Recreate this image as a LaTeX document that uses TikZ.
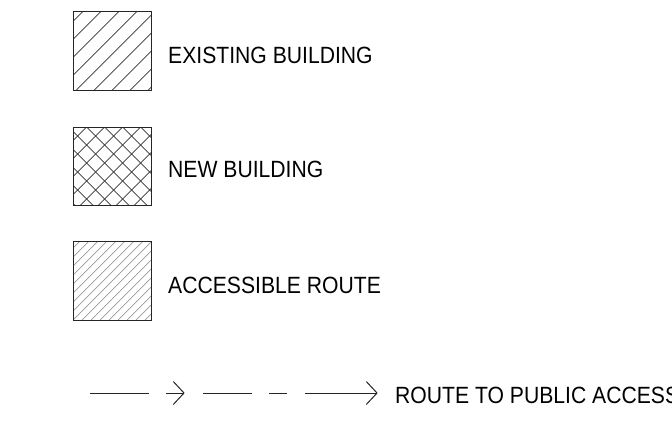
\documentclass[tikz,border=0pt]{standalone}
\usepackage{fontspec}
\setmainfont[FakeStretch=0.9]{Liberation Sans}
\begin{document}
\begin{tikzpicture}[x=1pt,y=-1pt,
  swatch/.style={draw=black!85,line width=1pt},
  hatch/.style={line width=0.7pt,black!80},
  lighthatch/.style={line width=0.7pt,black!40},
  label/.style={anchor=west,inner sep=0pt,font=\fontsize{23.5}{23.5}\selectfont},
  route/.style={line width=1pt,black!85},
  chevron/.style={line width=1pt,black!85,line join=miter}]
\useasboundingbox (0,0) rectangle (672,429);

% existing building: single diagonal hatch
\begin{scope}
  \clip (73,11) rectangle (151,90);
  \foreach \c in {-14,...,14}
    \draw[hatch] ({94.3+18*\c-11+60},-60+11) -- ({94.3+18*\c-90-60},{90+60});
\end{scope}
\node[swatch,minimum width=78pt,minimum height=79pt,inner sep=0pt] (exist) at (112,50.5) {};
\node[label] (existlbl) at (168,55) {EXISTING BUILDING};

% new building: cross hatch
\begin{scope}
  \clip (73,127) rectangle (151,205);
  \foreach \c in {-14,...,14} {
    \draw[hatch] ({213.7+18*\c-127+60},{127-60}) -- ({213.7+18*\c-205-60},{205+60});
    \draw[hatch] ({-40.3+18*\c+127-60},{127-60}) -- ({-40.3+18*\c+205+60},{205+60});
  }
\end{scope}
\node[swatch,minimum width=78pt,minimum height=78pt,inner sep=0pt] (new) at (112,166) {};
\node[label] (newlbl) at (168,169) {NEW BUILDING};

% accessible route: fine grey hatch
\begin{scope}
  \clip (73,241) rectangle (151,320);
  \foreach \c in {-24,...,24}
    \draw[lighthatch] ({321+9*\c-241+60},{241-60}) -- ({321+9*\c-320-60},{320+60});
\end{scope}
\node[swatch,minimum width=78pt,minimum height=79pt,inner sep=0pt] (access) at (112,280.5) {};
\node[label] (accesslbl) at (168,285) {ACCESSIBLE ROUTE};

% route to public access
\coordinate (r1a) at (90,393);   \coordinate (r1b) at (149,393);
\coordinate (r2a) at (166,393);  \coordinate (r2b) at (184,393);
\coordinate (r3a) at (203,393);  \coordinate (r3b) at (252,393);
\coordinate (r4a) at (269,393);  \coordinate (r4b) at (287,393);
\coordinate (r5a) at (305,393);  \coordinate (r5b) at (377,393);
\draw[route] (r1a) -- (r1b);
\draw[route] (r2a) -- (r2b);
\draw[chevron] ([shift={(-10.7,-11.5)}]r2b) -- (r2b) -- ([shift={(-10.7,11.5)}]r2b);
\draw[route] (r3a) -- (r3b);
\draw[route] (r4a) -- (r4b);
\draw[route] (r5a) -- (r5b);
\draw[chevron] ([shift={(-10.7,-11.5)}]r5b) -- (r5b) -- ([shift={(-10.7,11.5)}]r5b);
\node[label] (routelbl) at (395,395) {ROUTE TO PUBLIC ACCESS};
\end{tikzpicture}
\end{document}
